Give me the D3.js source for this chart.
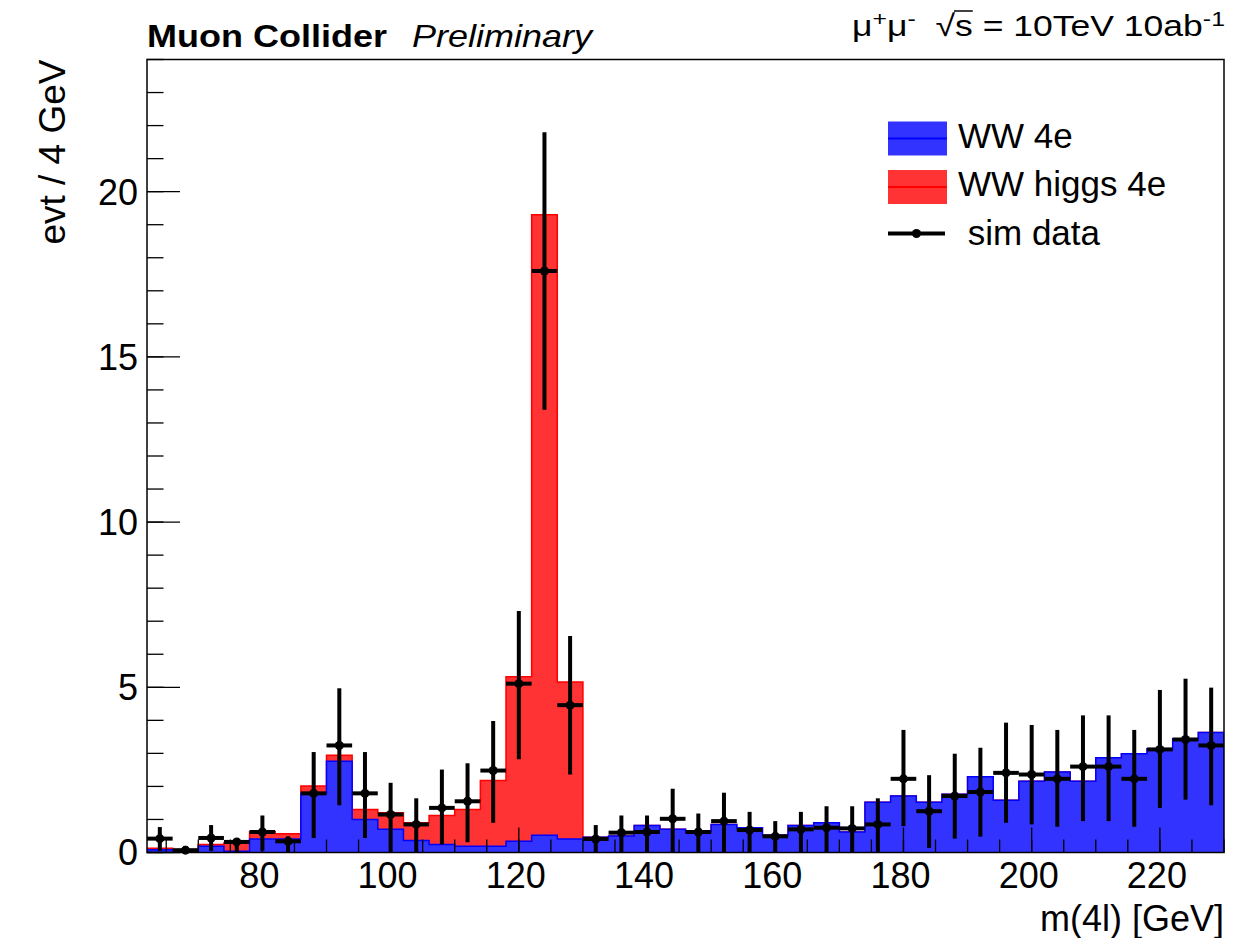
<!DOCTYPE html>
<html>
<head>
<meta charset="utf-8">
<script src="https://cdn.jsdelivr.net/npm/d3@7"></script>
<style>
  html, body { margin: 0; padding: 0; background: #fff; }
  svg { display: block; font-family: "Liberation Sans", Arial, Helvetica, sans-serif; }
</style>
</head>
<body>
<svg id="chart" width="1233" height="938"></svg>
<script>
// 4 GeV bins of the four-lepton invariant mass, from 62 to 230 GeV
const binCenters = [64, 68, 72, 76, 80, 84, 88, 92, 96, 100, 104, 108, 112, 116, 120, 124, 128,
  132, 136, 140, 144, 148, 152, 156, 160, 164, 168, 172, 176, 180, 184, 188, 192, 196, 200,
  204, 208, 212, 216, 220, 224, 228];
const binWidth = 4;

// Background: WW -> 4e
const ww4e = [0.08, 0.02, 0.19, 0.04, 0.41, 0.41, 1.79, 2.76, 1.00, 0.70, 0.36, 0.24, 0.19, 0.19,
  0.34, 0.52, 0.41, 0.46, 0.50, 0.82, 0.70, 0.62, 0.85, 0.75, 0.52, 0.82, 0.90, 0.62, 1.52,
  1.71, 1.52, 1.76, 2.29, 1.58, 2.16, 2.44, 2.16, 2.87, 2.99, 3.14, 3.44, 3.63];

// Signal: WW-fusion Higgs -> 4e (stacked on the background)
const wwHiggs4e = [0.05, 0.01, 0.05, 0.25, 0.22, 0.16, 0.22, 0.18, 0.30, 0.50, 0.54, 0.88, 1.11,
  1.99, 4.98, 18.78, 4.75, 0, 0, 0, 0, 0, 0, 0, 0, 0, 0, 0, 0, 0, 0, 0, 0, 0, 0, 0, 0, 0, 0, 0, 0, 0];

// Pseudo-data with asymmetric error intervals
const simData = [0.42, 0.07, 0.44, 0.32, 0.62, 0.34, 1.79, 3.24, 1.79, 1.15, 0.85, 1.35, 1.55,
  2.48, 5.11, 17.6, 4.46, 0.41, 0.60, 0.62, 1.02, 0.62, 0.95, 0.68, 0.49, 0.70, 0.75, 0.73,
  0.85, 2.23, 1.25, 1.71, 1.83, 2.41, 2.36, 2.23, 2.60, 2.60, 2.23, 3.12, 3.42, 3.24];
const simDataLow = [0.05, 0, 0.05, 0, 0.05, 0, 0.44, 1.43, 0.44, 0, 0, 0.24, 0.31, 0.90, 2.82,
  13.4, 2.36, 0, 0, 0, 0, 0, 0, 0, 0, 0, 0, 0, 0, 0.80, 0.14, 0.42, 0.48, 0.90, 0.85, 0.78,
  0.95, 0.95, 0.78, 1.35, 1.60, 1.43];
const simDataHigh = [0.77, 0.2, 0.83, 0.41, 1.12, 0.49, 3.04, 4.97, 3.04, 2.11, 1.64, 2.51, 2.70,
  3.98, 7.31, 21.8, 6.55, 0.83, 1.12, 1.12, 1.93, 1.18, 1.81, 1.23, 0.95, 1.23, 1.40, 1.40,
  1.64, 3.71, 2.34, 2.99, 3.17, 3.93, 3.86, 3.71, 4.15, 4.15, 3.71, 4.92, 5.26, 4.99];

const xDomain = [62, 230];
const yDomain = [0, 24];
const xMajorTicks = [80, 100, 120, 140, 160, 180, 200, 220];
const yMajorTicks = [0, 5, 10, 15, 20];

const legendLabels = ["WW 4e", "WW higgs 4e", " sim data"];

// ---------------------------------------------------------------------------
const svg = d3.select("#chart");
const frame = { left: 147, right: 1224, top: 59.5, bottom: 852.5 };

const x = d3.scaleLinear().domain(xDomain).range([frame.left, frame.right]);
const y = d3.scaleLinear().domain(yDomain).range([frame.bottom, frame.top]);

const blueFill = "#3333ff", blueLine = "#0000ff";
const redFill = "#ff3333", redLine = "#ff0000";

svg.append("defs").append("clipPath").attr("id", "plotClip")
  .append("rect")
  .attr("x", frame.left).attr("y", frame.top)
  .attr("width", frame.right - frame.left).attr("height", frame.bottom - frame.top);

const plot = svg.append("g").attr("clip-path", "url(#plotClip)");

// step histogram helpers
function stepPoints(values) {
  const pts = binCenters.map((c, i) => ({ x: c - binWidth / 2, v: values[i] }));
  const last = binCenters.length - 1;
  pts.push({ x: binCenters[last] + binWidth / 2, v: values[last] });
  return pts;
}
const area = d3.area()
  .x(d => x(d.x)).y0(y(0)).y1(d => y(d.v))
  .curve(d3.curveStepAfter);
const outline = d3.line()
  .x(d => x(d.x)).y(d => y(d.v))
  .curve(d3.curveStepAfter);

const stackTotal = ww4e.map((v, i) => v + wwHiggs4e[i]);

function drawHist(values, fill, stroke) {
  const pts = stepPoints(values);
  plot.append("path").attr("d", area(pts)).attr("fill", fill).attr("stroke", "none");
  const edge = [{ x: pts[0].x, v: 0 }, ...pts, { x: pts[pts.length - 1].x, v: 0 }];
  plot.append("path").attr("d", outline(edge))
    .attr("fill", "none").attr("stroke", stroke).attr("stroke-width", 1.5);
}
drawHist(stackTotal, redFill, redLine);
drawHist(ww4e, blueFill, blueLine);

// ---------------------------------------------------------------------------
// axes: frame plus inward ticks
const axes = svg.append("g").attr("stroke", "#000").attr("fill", "none");

const xMinor = d3.range(65, 231, 5);
const yMinor = d3.range(0, 25, 1);

axes.selectAll("line.xminor").data(xMinor).join("line")
  .attr("x1", d => x(d)).attr("x2", d => x(d))
  .attr("y1", frame.bottom).attr("y2", frame.bottom - 13)
  .attr("stroke-width", 1.3);
axes.selectAll("line.xmajor").data(xMajorTicks).join("line")
  .attr("x1", d => x(d)).attr("x2", d => x(d))
  .attr("y1", frame.bottom).attr("y2", frame.bottom - 25)
  .attr("stroke-width", 1.3);
axes.selectAll("line.yminor").data(yMinor).join("line")
  .attr("x1", frame.left).attr("x2", frame.left + 16.5)
  .attr("y1", d => y(d)).attr("y2", d => y(d))
  .attr("stroke-width", 1.3);
axes.selectAll("line.ymajor").data(yMajorTicks).join("line")
  .attr("x1", frame.left).attr("x2", frame.left + 33)
  .attr("y1", d => y(d)).attr("y2", d => y(d))
  .attr("stroke-width", 1.3);

axes.append("rect")
  .attr("x", frame.left).attr("y", frame.top)
  .attr("width", frame.right - frame.left).attr("height", frame.bottom - frame.top)
  .attr("stroke-width", 1.5);

// tick labels
svg.append("g").selectAll("text").data(xMajorTicks).join("text")
  .attr("x", d => x(d) - 3).attr("y", 888)
  .attr("text-anchor", "middle").attr("font-size", 36).attr("fill", "#000")
  .text(d => d);
svg.append("g").selectAll("text").data(yMajorTicks).join("text")
  .attr("x", 138).attr("y", d => y(d))
  .attr("dy", "0.36em")
  .attr("text-anchor", "end").attr("font-size", 36).attr("fill", "#000")
  .text(d => d);

// axis titles
svg.append("text")
  .attr("x", frame.right).attr("y", 931)
  .attr("text-anchor", "end").attr("font-size", 36).attr("fill", "#000")
  .text("m(4l) [GeV]");
svg.append("text")
  .attr("transform", `translate(65,${frame.top}) rotate(-90)`)
  .attr("text-anchor", "end").attr("font-size", 37).attr("fill", "#000")
  .text("evt / 4 GeV");

// ---------------------------------------------------------------------------
// pseudo-data points with error bars
const pts = svg.append("g").attr("stroke", "#000").attr("stroke-width", 4);
binCenters.forEach((c, i) => {
  pts.append("line")
    .attr("x1", x(c)).attr("x2", x(c))
    .attr("y1", y(simDataLow[i])).attr("y2", y(simDataHigh[i]));
  pts.append("line")
    .attr("x1", x(c - binWidth / 2)).attr("x2", x(c + binWidth / 2))
    .attr("y1", y(simData[i])).attr("y2", y(simData[i]));
});
svg.append("g").selectAll("circle").data(binCenters).join("circle")
  .attr("cx", d => x(d)).attr("cy", (d, i) => y(simData[i]))
  .attr("r", 4.5).attr("fill", "#000");

// ---------------------------------------------------------------------------
// legend
const lg = svg.append("g");
const boxX = 888, boxW = 59, boxH = 34;
[[121.5, blueFill, blueLine], [170, redFill, redLine]].forEach(([top, f, s]) => {
  lg.append("rect").attr("x", boxX).attr("y", top).attr("width", boxW).attr("height", boxH)
    .attr("fill", f);
  lg.append("line").attr("x1", boxX).attr("x2", boxX + boxW)
    .attr("y1", top + boxH / 2).attr("y2", top + boxH / 2)
    .attr("stroke", s).attr("stroke-width", 2);
});
lg.append("line").attr("x1", boxX).attr("x2", boxX + boxW - 2)
  .attr("y1", 233.5).attr("y2", 233.5).attr("stroke", "#000").attr("stroke-width", 4);
lg.append("circle").attr("cx", boxX + boxW / 2 - 1).attr("cy", 233.5).attr("r", 4.5).attr("fill", "#000");
[148, 196, 245].forEach((yy, i) => {
  lg.append("text").attr("x", 958).attr("y", yy)
    .attr("font-size", 35).attr("fill", "#000")
    .attr("xml:space", "preserve").style("white-space", "pre")
    .text(legendLabels[i]);
});

// ---------------------------------------------------------------------------
// header texts
svg.append("text").attr("x", 147).attr("y", 46.5)
  .attr("font-size", 32).attr("font-weight", "bold").attr("fill", "#000")
  .attr("textLength", 240).attr("lengthAdjust", "spacingAndGlyphs")
  .text("Muon Collider");
svg.append("text").attr("x", 412).attr("y", 46.5)
  .attr("font-size", 32).attr("font-style", "italic").attr("fill", "#000")
  .attr("textLength", 180).attr("lengthAdjust", "spacingAndGlyphs")
  .text("Preliminary");

const energy = svg.append("text").attr("x", 852).attr("y", 36)
  .attr("font-size", 30).attr("fill", "#000")
  .style("white-space", "pre");
energy.append("tspan").text("\u03BC");
energy.append("tspan").attr("font-size", 21).attr("dy", -10).text("+");
energy.append("tspan").attr("dy", 10).text("\u03BC");
energy.append("tspan").attr("font-size", 21).attr("dy", -10).text("-");
energy.append("tspan").attr("dy", 10).text("  \u221A");
energy.append("tspan").text("s");
energy.append("tspan").text(" = 10TeV 10ab");
energy.append("tspan").attr("font-size", 21).attr("dy", -10).text("-1");
energy.attr("textLength", 373).attr("lengthAdjust", "spacingAndGlyphs");

// overbar of the square root, spanning the radicand
const full = energy.node().textContent;
const sIdx = full.indexOf("\u221A");
const rootBox = energy.node().getExtentOfChar(sIdx);
const sBox = energy.node().getExtentOfChar(sIdx + 1);
svg.append("line")
  .attr("x1", rootBox.x + rootBox.width - 1).attr("x2", sBox.x + sBox.width)
  .attr("y1", rootBox.y + 2).attr("y2", rootBox.y + 2)
  .attr("stroke", "#000").attr("stroke-width", 1.5);
</script>
</body>
</html>
